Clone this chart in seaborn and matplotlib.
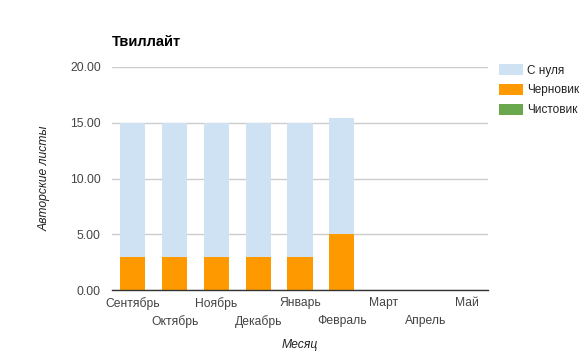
import matplotlib
matplotlib.use('Agg')
import matplotlib.pyplot as plt
from matplotlib.patches import Patch
import seaborn as sns
import pandas as pd
import numpy as np

months = ['Сентябрь', 'Октябрь', 'Ноябрь', 'Декабрь', 'Январь',
          'Февраль', 'Март', 'Апрель', 'Май']
from_scratch = [12.0, 12.0, 12.0, 12.0, 12.0, 10.45, 0, 0, 0]
draft = [3.0, 3.0, 3.0, 3.0, 3.0, 5.0, 0, 0, 0]
final = [0, 0, 0, 0, 0, 0, 0, 0, 0]
y_ticks = [0, 5, 10, 15, 20]

colors = {'С нуля': '#cfe2f3', 'Черновик': '#ff9900', 'Чистовик': '#6aa84f'}

df = pd.DataFrame({'Месяц': months, 'С нуля': from_scratch,
                   'Черновик': draft, 'Чистовик': final})
df['top'] = df['С нуля'] + df['Черновик'] + df['Чистовик']
df['mid'] = df['Черновик'] + df['Чистовик']

sns.set_style('white')
plt.rcParams['font.family'] = ['Arial', 'Liberation Sans', 'DejaVu Sans']

fig = plt.figure(figsize=(5.86, 3.56), dpi=100)
ax = fig.add_axes([0.191, 0.185, 0.642, 0.627])

for col, name in [('top', 'С нуля'), ('mid', 'Черновик'), ('Чистовик', 'Чистовик')]:
    sns.barplot(data=df, x='Месяц', y=col, color=colors[name],
                width=0.6, saturation=1, linewidth=0, edgecolor='none',
                ax=ax, zorder=2)

ax.set_ylim(0, 20)
ax.set_xlim(-0.5, len(months) - 0.5)
ax.set_yticks(y_ticks)
ax.set_yticklabels([f'{v:.2f}' for v in y_ticks])

pos = np.arange(len(months))
ax.set_xticks(pos[::2])
ax.set_xticklabels(months[::2])
ax.set_xticks(pos[1::2], minor=True)
ax.set_xticklabels(months[1::2], minor=True)
ax.tick_params(axis='x', which='major', length=0, labelsize=8.7,
               labelcolor='#444444', pad=5)
ax.tick_params(axis='x', which='minor', length=0, labelsize=8.7,
               labelcolor='#444444', pad=18)
ax.tick_params(axis='y', length=0, labelsize=8.7, labelcolor='#444444', pad=8)

ax.grid(axis='y', color='#cccccc', linewidth=1, zorder=0)
ax.set_axisbelow(True)
for side in ['top', 'right', 'left']:
    ax.spines[side].set_visible(False)
ax.spines['bottom'].set_color('#333333')
ax.spines['bottom'].set_linewidth(1)
ax.spines['bottom'].set_zorder(3)

ax.set_xlabel('Месяц', fontsize=8.7, style='italic', color='#222222', labelpad=8)
ax.set_ylabel('Авторские листы', fontsize=8.7, style='italic', color='#222222', labelpad=14)

fig.text(112 / 586, 1 - 42 / 356, 'Твиллайт', fontsize=10.5, fontweight='bold',
         color='#000000', ha='left', va='center')

handles = [Patch(facecolor=colors[n], edgecolor='none') for n in colors]
fig.legend(handles, list(colors), loc='upper left', bbox_to_anchor=(499 / 586, 1 - 64 / 356),
           frameon=False, fontsize=8.5, handlelength=2.0, handleheight=1.1,
           handletextpad=0.4, labelspacing=0.6, labelcolor='#222222',
           borderpad=0, borderaxespad=0)

fig.savefig('out.png', dpi=100)
